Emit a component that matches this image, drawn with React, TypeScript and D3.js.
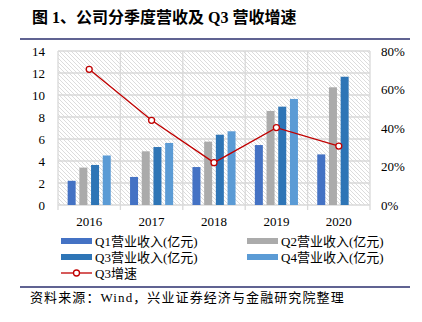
import React from "react";
import * as d3 from "d3";

const years = ["2016", "2017", "2018", "2019", "2020"];
const q1 = [2.2, 2.55, 3.45, 5.45, 4.6];
const q2 = [3.4, 4.88, 5.76, 8.55, 10.7];
const q3 = [3.64, 5.27, 6.39, 8.94, 11.66];
const q4: (number | null)[] = [4.5, 5.64, 6.7, 9.64, null];
const q3Growth = [0.705, 0.44, 0.22, 0.402, 0.306];
const leftTicks = [0, 2, 4, 6, 8, 10, 12, 14];
const rightTicks = [0, 0.2, 0.4, 0.6, 0.8];

const seriesNames = ["Q1营业收入(亿元)", "Q2营业收入(亿元)", "Q3营业收入(亿元)", "Q4营业收入(亿元)"];
const colors = ["#4472C4", "#ABABAB", "#2E75B6", "#5B9BD5"];
const lineName = "Q3增速";
const lineColor = "#C00000";

const titleText = "图 1、公司分季度营收及 Q3 营收增速";
const sourceText = "资料来源：Wind，兴业证券经济与金融研究院整理";

const FONT = "'Liberation Serif', 'Noto Sans CJK SC', serif";

export default function App() {
  const W = 422, H = 322;
  const left = 58, right = 370, top = 51, bottom = 205;
  const x = d3.scaleBand().domain(years).range([left, right]).paddingInner(0).paddingOuter(0);
  const y = d3.scaleLinear().domain([0, 14]).range([bottom, top]);
  const y2 = d3.scaleLinear().domain([0, 0.8]).range([bottom, top]);
  const series = [q1, q2, q3, q4];
  const barW = 8;
  const step = 11.7;
  const groupOffset = (x.bandwidth() - (step * 3 + barW)) / 2;

  const lineGen = d3
    .line<number>()
    .x((_, i) => (x(years[i]) as number) + x.bandwidth() / 2)
    .y((d) => y2(d));

  return (
    <svg width={W} height={H} style={{ position: "absolute", left: 0, top: 0, background: "#fff" }} fontFamily={FONT}>
      <defs>
        <pattern id="hatch" width={4} height={4} patternUnits="userSpaceOnUse">
          <path d="M0,0 L4,4 M-1,3 L1,5 M3,-1 L5,1" stroke="#dcdcdc" strokeWidth={1} />
        </pattern>
      </defs>
      {/* title */}
      <text x={32} y={23} fontSize={16} fontWeight="bold" fill="#000">{titleText}</text>
      <line x1={20} x2={410} y1={39} y2={39} stroke="#2b2f6e" strokeWidth={1.5} />

      {/* plot background */}
      <rect x={left} y={top} width={right - left} height={bottom - top} fill="url(#hatch)" />
      {leftTicks.map((t) => (
        <line key={"h" + t} x1={left} x2={right} y1={y(t)} y2={y(t)} stroke="#d9d9d9" strokeWidth={1.3} />
      ))}
      {years.map((yr) => (
        <line key={"v" + yr} x1={x(yr) as number} x2={x(yr) as number} y1={top} y2={bottom + 5} stroke="#d9d9d9" strokeWidth={1.3} />
      ))}
      <line x1={right} x2={right} y1={top} y2={bottom + 5} stroke="#d9d9d9" strokeWidth={1.3} />

      {/* bars */}
      {series.map((s, si) =>
        s.map((v, i) =>
          v == null ? null : (
            <rect
              key={si + "-" + i}
              x={(x(years[i]) as number) + groupOffset + si * step}
              y={y(v)}
              width={barW}
              height={bottom - y(v)}
              fill={colors[si]}
            />
          )
        )
      )}

      {/* line */}
      <path d={lineGen(q3Growth) || ""} fill="none" stroke={lineColor} strokeWidth={1.3} />
      {q3Growth.map((v, i) => (
        <circle key={"c" + i} cx={(x(years[i]) as number) + x.bandwidth() / 2} cy={y2(v)} r={3} fill="#fff" stroke={lineColor} strokeWidth={1.3} />
      ))}

      {/* axes labels */}
      {leftTicks.map((t) => (
        <text key={"lt" + t} x={45} y={y(t)} dy="0.35em" textAnchor="end" fontSize={13} fill="#000">{t}</text>
      ))}
      {rightTicks.map((t) => (
        <text key={"rt" + t} x={381} y={y2(t)} dy="0.35em" textAnchor="start" fontSize={13} fill="#000">{d3.format(".0%")(t)}</text>
      ))}
      {years.map((yr) => (
        <text key={"xt" + yr} x={(x(yr) as number) + x.bandwidth() / 2} y={221} dy="0.35em" textAnchor="middle" fontSize={13} fill="#000">{yr}</text>
      ))}

      {/* legend */}
      {seriesNames.map((n, i) => {
        const lx = i % 2 === 0 ? 61 : 247;
        const ly = i < 2 ? 241 : 257;
        return (
          <g key={"lg" + i}>
            <rect x={lx} y={ly - 3} width={31} height={6} fill={colors[i]} />
            <text x={lx + 34} y={ly} dy="0.35em" fontSize={13} fill="#000">{n}</text>
          </g>
        );
      })}
      <line x1={61} x2={92} y1={273} y2={273} stroke={lineColor} strokeWidth={1.3} />
      <circle cx={76.5} cy={273} r={3} fill="#fff" stroke={lineColor} strokeWidth={1.3} />
      <text x={95} y={273} dy="0.35em" fontSize={13} fill="#000">{lineName}</text>

      {/* footer */}
      <line x1={20} x2={410} y1={287} y2={287} stroke="#2b2f6e" strokeWidth={1.5} />
      <text x={30} y={297} dy="0.35em" fontSize={13} letterSpacing={1.1} fill="#000">{sourceText}</text>
    </svg>
  );
}
